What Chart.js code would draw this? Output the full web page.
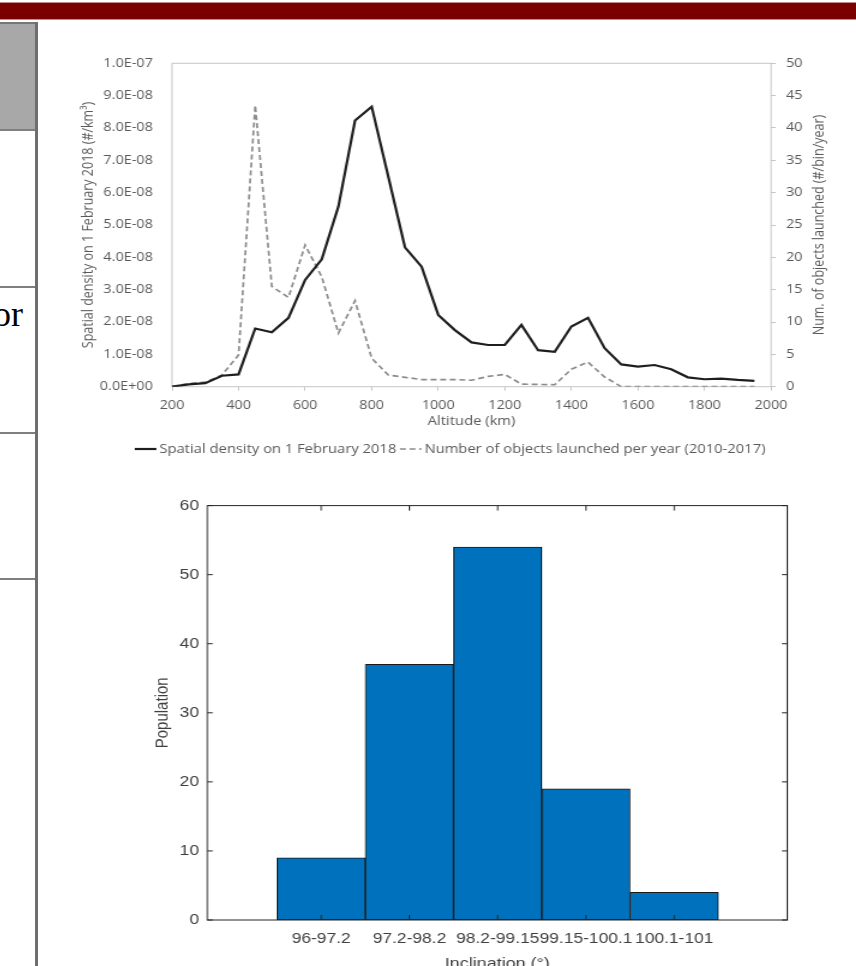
<!DOCTYPE html>
<html>
<head>
<meta charset="utf-8">
<title>Altitude profile and inclination histogram</title>
<script src="https://cdn.jsdelivr.net/npm/chart.js@4.4.1/dist/chart.umd.min.js"></script>
<style>
	html, body { margin: 0; padding: 0; background: #fff; width: 856px; height: 966px; overflow: hidden; }
	.topbar { position: absolute; left: 0; top: 2px; width: 856px; height: 16px; background: #7a0000; border-top: 1px solid #c48d8d; border-bottom: 1px solid #c48d8d; }
	.head-cell { position: absolute; left: 0; top: 22px; width: 35px; height: 108px; background: #a8a8a8; border-top: 2px solid #767676; box-sizing: border-box; }
	.table-edge { position: absolute; left: 35px; top: 22px; width: 3px; height: 944px; background: #6e6e6e; }
	.rule { position: absolute; left: 0; width: 35px; height: 2px; background: #7f7f7f; }
	.cut-word { position: absolute; left: -7px; top: 296px; font: 36px 'Liberation Serif', serif; line-height: 1; color: #000; }
	/* the source picture is stretched sideways, so are the charts */
	.stretch { position: absolute; transform: scaleX(1.2); transform-origin: 0 0; }
	#densityBox { left: 40px; top: 40px; width: 680px; height: 430px; }
	#inclBox { left: 140px; top: 490px; width: 597px; height: 490px; }
</style>
</head>
<body>
<div class="topbar"></div>
<div class="head-cell"></div>
<div class="rule" style="top:129px"></div>
<div class="rule" style="top:286px"></div>
<div class="rule" style="top:432px"></div>
<div class="rule" style="top:578px"></div>
<div class="table-edge"></div>
<div class="cut-word">or</div>

<div class="stretch" id="densityBox"><canvas id="densityChart"></canvas></div>
<div class="stretch" id="inclBox"><canvas id="inclChart"></canvas></div>

<script>
"use strict";

// altitude profile (bins of 50 km)
var altitudeKm = [200, 250, 300, 350, 400, 450, 500, 550, 600, 650, 700, 750, 800, 850, 900, 950,
	1000, 1050, 1100, 1150, 1200, 1250, 1300, 1350, 1400, 1450, 1500, 1550, 1600, 1650, 1700, 1750,
	1800, 1850, 1900, 1950];
var spatialDensity = [0, 0.07e-8, 0.11e-8, 0.34e-8, 0.38e-8, 1.80e-8, 1.68e-8, 2.13e-8, 3.30e-8, 3.94e-8,
	5.57e-8, 8.23e-8, 8.66e-8, 6.49e-8, 4.31e-8, 3.71e-8, 2.22e-8, 1.75e-8, 1.37e-8, 1.29e-8,
	1.29e-8, 1.91e-8, 1.13e-8, 1.08e-8, 1.86e-8, 2.13e-8, 1.19e-8, 0.69e-8, 0.62e-8, 0.67e-8,
	0.54e-8, 0.29e-8, 0.23e-8, 0.25e-8, 0.21e-8, 0.18e-8];
var launchesPerYear = [0, 0.5, 0.7, 1.8, 4.9, 43.5, 15.5, 13.8, 21.9, 17.0, 8.3, 13.3, 4.4, 1.8, 1.45, 1.1,
	1.1, 1.1, 1.0, 1.6, 1.9, 0.4, 0.35, 0.3, 2.7, 3.8, 1.5, 0, 0, 0, 0, 0, 0, 0, 0, 0];
var altitudeTicks = [200, 400, 600, 800, 1000, 1200, 1400, 1600, 1800, 2000];
var densityTicks = [0, 1e-8, 2e-8, 3e-8, 4e-8, 5e-8, 6e-8, 7e-8, 8e-8, 9e-8, 1e-7];
var launchTicks = [0, 5, 10, 15, 20, 25, 30, 35, 40, 45, 50];

// inclination histogram
var inclinationBins = ['96-97.2', '97.2-98.2', '98.2-99.15', '99.15-100.1', '100.1-101'];
var population = [9, 37, 54, 19, 4];
var populationTicks = [0, 10, 20, 30, 40, 50, 60];

var excelGrey = '#595959';
var matlabGrey = '#404040';

function sciLabel(v) {
	var parts = Number(v).toExponential(1).split('e');
	var exp = parseInt(parts[1], 10);
	var a = Math.abs(exp);
	return parts[0] + 'E' + (exp < 0 ? '-' : '+') + (a < 10 ? '0' : '') + a;
}

function plainLabel(v) {
	return String(v);
}

function fixedTicks(list) {
	return function (axis) {
		axis.ticks = list.map(function (v) { return { value: v }; });
	};
}

// box, axis titles and legend of the altitude chart
var densityDecor = {
	id: 'densityDecor',
	beforeDatasetsDraw: function (chart) {
		var a = chart.chartArea, ctx = chart.ctx;
		ctx.save();
		ctx.strokeStyle = '#c6c6c6';
		ctx.lineWidth = 1;
		ctx.strokeRect(a.left, a.top, a.right - a.left, a.bottom - a.top);
		ctx.restore();
	},
	afterDraw: function (chart) {
		var a = chart.chartArea, ctx = chart.ctx;
		var midY = (a.top + a.bottom) / 2;
		ctx.save();
		ctx.fillStyle = excelGrey;
		ctx.textAlign = 'center';
		ctx.textBaseline = 'middle';
		ctx.font = "12.3px 'Open Sans'";
		ctx.fillText('Altitude (km)', (a.left + a.right) / 2, 381);

		ctx.font = "12.5px 'Open Sans'";
		ctx.save();
		ctx.translate(40.8, midY);
		ctx.rotate(-Math.PI / 2);
		ctx.fillText('Spatial density on 1 February 2018 (#/km\u00b3)', 0, 0);
		ctx.restore();
		ctx.save();
		ctx.translate(649.2, midY);
		ctx.rotate(-Math.PI / 2);
		ctx.fillText('Num. of objects launched (#/bin/year)', 0, 0);
		ctx.restore();

		// legend
		ctx.font = "12.3px 'Open Sans'";
		ctx.textAlign = 'left';
		var x = 79, y = 409;
		chart.data.datasets.forEach(function (ds) {
			ctx.save();
			ctx.strokeStyle = ds.borderColor;
			ctx.lineWidth = ds.borderWidth;
			ctx.setLineDash(ds.borderDash || []);
			ctx.beginPath();
			ctx.moveTo(x, y);
			ctx.lineTo(x + 18, y);
			ctx.stroke();
			ctx.restore();
			x += 20.5;
			ctx.fillText(ds.label, x, y);
			x += ctx.measureText(ds.label).width + 3;
		});
		ctx.restore();
	}
};

var tickFont = { family: "'Open Sans'", size: 12 };

var densityChart = new Chart(document.getElementById('densityChart'), {
	type: 'line',
	data: {
		datasets: [{
			label: 'Spatial density on 1 February 2018',
			data: altitudeKm.map(function (alt, i) { return { x: alt, y: spatialDensity[i] }; }),
			yAxisID: 'yDensity',
			borderColor: '#1e1e1e',
			borderWidth: 2.2,
			pointRadius: 0,
			tension: 0
		}, {
			label: 'Number of objects launched per year (2010-2017)',
			data: altitudeKm.map(function (alt, i) { return { x: alt, y: launchesPerYear[i] }; }),
			yAxisID: 'yLaunch',
			borderColor: '#8c8c8c',
			borderWidth: 1.7,
			borderDash: [5, 3],
			pointRadius: 0,
			tension: 0
		}]
	},
	options: {
		responsive: true,
		maintainAspectRatio: false,
		animation: false,
		layout: { padding: { top: 23.3, left: 0, right: 0, bottom: 0 } },
		plugins: {
			legend: { display: false },
			tooltip: { enabled: false }
		},
		scales: {
			x: {
				type: 'linear',
				min: 200,
				max: 2000,
				afterBuildTicks: fixedTicks(altitudeTicks),
				ticks: { callback: plainLabel, color: excelGrey, font: tickFont, padding: 8, maxRotation: 0 },
				grid: { drawOnChartArea: false, tickLength: 4, color: '#c6c6c6' },
				border: { display: false },
				afterFit: function (axis) { axis.height = 83.3; }
			},
			yDensity: {
				position: 'left',
				min: 0,
				max: 1e-7,
				afterBuildTicks: fixedTicks(densityTicks),
				ticks: { callback: sciLabel, color: excelGrey, font: tickFont, padding: 16 },
				grid: { display: false, drawTicks: false },
				border: { display: false },
				afterFit: function (axis) { axis.width = 110; }
			},
			yLaunch: {
				position: 'right',
				min: 0,
				max: 50,
				afterBuildTicks: fixedTicks(launchTicks),
				ticks: { callback: plainLabel, color: excelGrey, font: tickFont, padding: 8.5 },
				grid: { drawOnChartArea: false, tickLength: 4, color: '#c6c6c6' },
				border: { display: false },
				afterFit: function (axis) { axis.width = 70.8; }
			}
		}
	},
	plugins: [densityDecor]
});

// matlab style box with inward ticks
var matlabBox = {
	id: 'matlabBox',
	afterDatasetsDraw: function (chart) {
		var a = chart.chartArea, ctx = chart.ctx;
		var xs = chart.scales.x, ys = chart.scales.y;
		ctx.save();
		ctx.strokeStyle = '#262626';
		ctx.lineWidth = 1;
		ctx.beginPath();
		ys.ticks.forEach(function (t) {
			var py = ys.getPixelForValue(t.value);
			ctx.moveTo(a.left, py); ctx.lineTo(a.left + 4.5, py);
			ctx.moveTo(a.right, py); ctx.lineTo(a.right - 4.5, py);
		});
		xs.ticks.forEach(function (t) {
			var px = xs.getPixelForValue(t.value);
			ctx.moveTo(px, a.bottom); ctx.lineTo(px, a.bottom - 5);
			ctx.moveTo(px, a.top); ctx.lineTo(px, a.top + 5);
		});
		ctx.stroke();
		ctx.strokeRect(a.left, a.top, a.right - a.left, a.bottom - a.top);

		ctx.fillStyle = matlabGrey;
		ctx.font = "15px 'Liberation Sans'";
		ctx.textAlign = 'center';
		ctx.textBaseline = 'middle';
		ctx.fillText('Inclination (\u00b0)', (a.left + a.right) / 2, 474);
		ctx.translate(19.2, (a.top + a.bottom) / 2);
		ctx.rotate(-Math.PI / 2);
		ctx.fillText('Population', 0, 0);
		ctx.restore();
	}
};

var matlabFont = { family: "'Liberation Sans'", size: 14.5 };

var inclChart = new Chart(document.getElementById('inclChart'), {
	type: 'bar',
	data: {
		datasets: [{
			label: 'Population',
			data: population.map(function (p, i) { return { x: i + 1, y: p }; }),
			backgroundColor: '#0072bd',
			borderColor: '#1a1a1a',
			borderWidth: 1,
			borderSkipped: false,
			barPercentage: 1,
			categoryPercentage: 1
		}]
	},
	options: {
		responsive: true,
		maintainAspectRatio: false,
		animation: false,
		layout: { padding: { top: 14, left: 0, right: 57.6, bottom: 0 } },
		plugins: {
			legend: { display: false },
			tooltip: { enabled: false }
		},
		scales: {
			x: {
				type: 'linear',
				offset: false,
				min: -0.29,
				max: 6.28,
				afterBuildTicks: fixedTicks([1, 2, 3, 4, 5]),
				ticks: {
					callback: function (v, i) { return inclinationBins[i]; },
					autoSkip: false,
					maxRotation: 0,
					color: matlabGrey,
					font: matlabFont,
					padding: 10.6
				},
				grid: { display: false, drawTicks: false },
				border: { display: false },
				afterFit: function (axis) { axis.height = 60; }
			},
			y: {
				min: 0,
				max: 60,
				afterBuildTicks: fixedTicks(populationTicks),
				ticks: { callback: plainLabel, color: matlabGrey, font: matlabFont, padding: 6.9 },
				grid: { display: false, drawTicks: false },
				border: { display: false },
				afterFit: function (axis) { axis.width = 56.1; }
			}
		}
	},
	plugins: [matlabBox]
});
</script>
</body>
</html>
